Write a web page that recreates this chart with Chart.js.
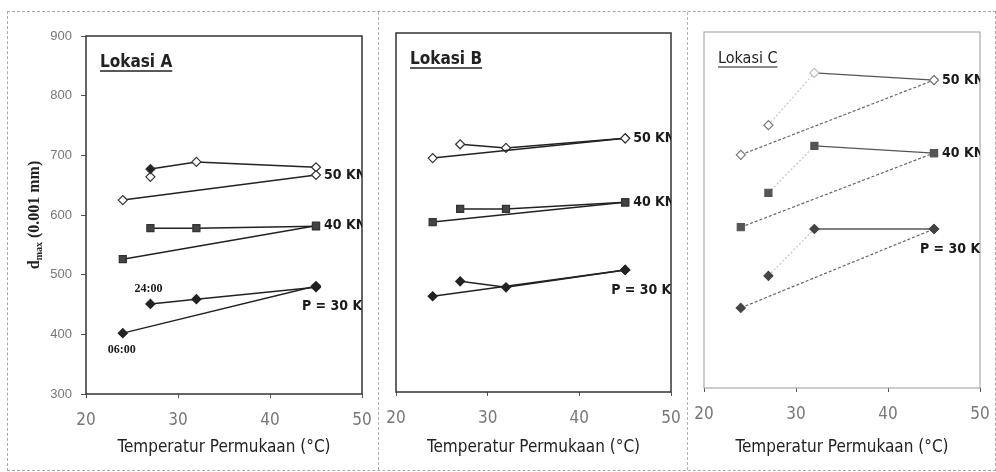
<!DOCTYPE html>
<html lang="en">
<head>
<meta charset="utf-8" />
<title>dmax vs Temperatur Permukaan</title>
<style>
  body { margin: 0; background: #fff; }
  #wrap { position: relative; width: 996px; height: 472px; overflow: hidden; }
  #wrap canvas { position: absolute; top: 12px; }
  .frame { position: absolute; border: 1px dashed #a8a8a8; }
  .divider { position: absolute; top: 12px; width: 0; height: 458px; border-left: 1px dashed #b0b0b0; }
</style>
</head>
<body>
<div id="wrap">
  <div class="frame" style="left:7px; top:11px; width:987px; height:458px;"></div>
  <div class="divider" style="left:378px;"></div>
  <div class="divider" style="left:687px;"></div>
  <canvas id="chartA" width="370" height="458" style="left:8px;"></canvas>
  <canvas id="chartB" width="309" height="458" style="left:378px;"></canvas>
  <canvas id="chartC" width="303" height="458" style="left:687px;"></canvas>
</div>
<script src="https://cdn.jsdelivr.net/npm/chart.js@4.4.1/dist/chart.umd.min.js"></script>
<script>
  // surface temperatures (deg C): morning line 06:00 -> noon, evening line -> 24:00
  var temp06 = [24, 45];
  var temp24 = [27, 32, 45];

  // Lokasi A, dmax (0.001 mm)
  var a30_06 = [402, 481];
  var a30_24 = [451, 459, 479];
  var a40_06 = [526, 582];
  var a40_24 = [578, 578, 581];
  var a50_06 = [625, 667];
  var a50_24 = [677, 689, 680];
  var a50_extraT = [27];
  var a50_extra = [664];

  // Lokasi B
  var b30_06 = [460, 504];
  var b30_24 = [485, 475, 504];
  var b40_06 = [584, 617];
  var b40_24 = [606, 606, 617];
  var b50_06 = [691, 724];
  var b50_24 = [714, 708, 724];

  // Lokasi C
  var c30_06 = [435, 568];
  var c30_24 = [489, 568, 568];
  var c40_06 = [571, 696];
  var c40_24 = [629, 708, 696];
  var c50_06 = [693, 819];
  var c50_24 = [743, 831, 819];

  var loadLabels = ["P = 30 KN", "40 KN", "50 KN"];
  var timeLabels = ["06:00", "24:00"];
  var yTicks = [300, 900, 100];
  var xTicks = [20, 50, 10];

  var NARROW = "'Liberation Sans Narrow', 'DejaVu Sans Condensed', 'Arial Narrow', 'Liberation Sans', sans-serif";
  var SERIF = "'Liberation Serif', 'Times New Roman', serif";

  function pts(t, v) {
    return t.map(function (x, i) { return { x: x, y: v[i] }; });
  }

  function series(t, v, opts) {
    var ds = {
      data: pts(t, v),
      showLine: true,
      borderColor: "#222",
      borderWidth: 1.5,
      pointStyle: "rectRot",
      pointRadius: 4.5,
      pointHoverRadius: 4.5,
      pointBorderWidth: 1.2,
      pointBackgroundColor: "#222",
      pointBorderColor: "#222"
    };
    for (var k in opts) ds[k] = opts[k];
    return ds;
  }

  var openDiamond = { pointBackgroundColor: "#fff", pointBorderColor: "#333" };
  var square = { pointStyle: "rect", pointRadius: 5, pointBackgroundColor: "#444", pointBorderColor: "#333" };

  function merge(a, b) {
    var o = {};
    for (var k in a) o[k] = a[k];
    for (var j in b) o[j] = b[j];
    return o;
  }

  // draws the plot frame, "Lokasi" title, load labels and (panel A) the y title
  function panelPlugin(cfg) {
    return {
      id: "panel",
      afterDraw: function (chart) {
        var ctx = chart.ctx;
        var ca = chart.chartArea;
        var xs = chart.scales.x, ys = chart.scales.y;
        ctx.save();
        ctx.strokeStyle = cfg.frame;
        ctx.lineWidth = cfg.frameWidth;
        ctx.strokeRect(ca.left, ca.top, ca.right - ca.left, ca.bottom - ca.top);

        ctx.fillStyle = "#222";
        ctx.font = cfg.titleFont;
        ctx.textAlign = "left";
        ctx.textBaseline = "alphabetic";
        var tx = ca.left + 14, ty = ca.top + 31;
        ctx.fillText(cfg.title, tx, ty);
        var w = ctx.measureText(cfg.title).width;
        ctx.strokeStyle = cfg.titleLine;
        ctx.lineWidth = 1.5;
        ctx.beginPath();
        ctx.moveTo(tx, ty + 4);
        ctx.lineTo(tx + w, ty + 4);
        ctx.stroke();

        // labels clipped to plot area, like the original
        ctx.beginPath();
        ctx.rect(ca.left, ca.top, ca.right - ca.left, ca.bottom - ca.top);
        ctx.clip();
        ctx.textBaseline = "middle";
        cfg.labels.forEach(function (l) {
          var p = chart.data.datasets[l.ds].data[l.pt];
          ctx.font = l.font;
          ctx.fillStyle = "#1a1a1a";
          ctx.textAlign = l.align || "left";
          ctx.fillText(l.text, xs.getPixelForValue(p.x) + l.dx, ys.getPixelForValue(p.y) + l.dy);
        });
        ctx.restore();

        if (cfg.yTitle) {
          ctx.save();
          ctx.translate(25, 203);
          ctx.rotate(-Math.PI / 2);
          ctx.fillStyle = "#222";
          ctx.textBaseline = "alphabetic";
          var f1 = "bold 16px " + SERIF, f2 = "bold 10px " + SERIF;
          var parts = [["d", f1, 0], ["max", f2, 3], [" (0.001 mm)", f1, 0]];
          var total = 0;
          parts.forEach(function (p) { ctx.font = p[1]; total += ctx.measureText(p[0]).width; });
          var x = -total / 2;
          parts.forEach(function (p) {
            ctx.font = p[1];
            ctx.fillText(p[0], x, 6 + p[2]);
            x += ctx.measureText(p[0]).width;
          });
          ctx.restore();
        }
      }
    };
  }

  function makeChart(id, datasets, cfg) {
    var ctx = document.getElementById(id).getContext("2d");
    return new Chart(ctx, {
      type: "scatter",
      data: { datasets: datasets },
      options: {
        responsive: false,
        animation: false,
        layout: { padding: { top: cfg.padTop, right: cfg.padRight, left: 0, bottom: 0 } },
        plugins: { legend: { display: false }, tooltip: { enabled: false } },
        scales: {
          x: {
            type: "linear",
            min: xTicks[0], max: xTicks[1],
            border: { display: false },
            grid: { drawOnChartArea: false, tickLength: 4, color: "#555" },
            ticks: { stepSize: xTicks[2], color: "#777", padding: 12, font: { family: NARROW, size: 17 } },
            title: {
              display: true,
              text: "Temperatur Permukaan (°C)",
              color: "#222",
              font: { family: NARROW, size: 17 },
              padding: { top: 0, bottom: 12 }
            },
            afterFit: function (s) {
              s.height = cfg.xHeight;
              s.paddingLeft = 0;
              s.paddingRight = 0;
            }
          },
          y: {
            min: yTicks[0], max: yTicks[1],
            border: { display: false },
            grid: { display: cfg.yTicks, drawOnChartArea: false, tickLength: 5, color: "#555" },
            ticks: { display: cfg.yTicks, stepSize: yTicks[2], color: "#777", padding: 9, font: { family: "'Liberation Sans', Arial, sans-serif", size: 13 } },
            afterFit: function (s) {
              s.width = cfg.yWidth;
              s.paddingTop = 0;
              s.paddingBottom = 0;
            }
          }
        }
      },
      plugins: [panelPlugin(cfg)]
    });
  }

  var labelBold = "bold 14px " + NARROW;
  var timeFont = "bold 12px " + SERIF;

  function loadLabelSet(i30, i40, i50) {
    return [
      { text: loadLabels[0], ds: i30, pt: 1, dx: -14, dy: 20, font: labelBold },
      { text: loadLabels[1], ds: i40, pt: 1, dx: 8, dy: 0, font: labelBold },
      { text: loadLabels[2], ds: i50, pt: 1, dx: 8, dy: 0, font: labelBold }
    ];
  }

  // Lokasi A
  var dsA = [
    series(temp06, a30_06, {}),
    series(temp24, a30_24, {}),
    series(temp06, a40_06, square),
    series(temp24, a40_24, square),
    series(temp06, a50_06, openDiamond),
    series(temp24, a50_24, merge(openDiamond, { pointBackgroundColor: ["#222", "#fff", "#fff"] })),
    series(a50_extraT, a50_extra, merge(openDiamond, { showLine: false }))
  ];
  var labA = loadLabelSet(0, 2, 4);
  labA.push({ text: timeLabels[0], ds: 0, pt: 0, dx: -1, dy: 17, font: timeFont, align: "center" });
  labA.push({ text: timeLabels[1], ds: 1, pt: 0, dx: -2, dy: -15, font: timeFont, align: "center" });
  makeChart("chartA", dsA, {
    title: "Lokasi A", titleFont: "bold 17px " + NARROW, titleLine: "#222",
    frame: "#333", frameWidth: 1.5, labels: labA, yTitle: true, yTicks: true,
    padTop: 24, padRight: 16, yWidth: 78, xHeight: 76
  });

  // Lokasi B
  var dsB = [
    series(temp06, b30_06, {}),
    series(temp24, b30_24, {}),
    series(temp06, b40_06, square),
    series(temp24, b40_24, square),
    series(temp06, b50_06, openDiamond),
    series(temp24, b50_24, openDiamond)
  ];
  makeChart("chartB", dsB, {
    title: "Lokasi B", titleFont: "bold 17px " + NARROW, titleLine: "#222",
    frame: "#333", frameWidth: 1.5, labels: loadLabelSet(0, 2, 4), yTitle: false, yTicks: false,
    padTop: 21, padRight: 16, yWidth: 18, xHeight: 78
  });

  // Lokasi C: faint scanned lines, dashed morning line
  function cSeries(t, v, marker, isMorning) {
    var o = merge(marker, {});
    if (isMorning) {
      o.borderColor = "#666";
      o.borderWidth = 1.2;
      o.borderDash = [3, 2];
    } else {
      o.borderColor = "#555";
      o.borderWidth = 1.3;
      o.segment = {
        borderColor: function (c) { return c.p0DataIndex === 0 ? "#c8c8c8" : undefined; },
        borderDash: function (c) { return c.p0DataIndex === 0 ? [2, 2] : undefined; }
      };
    }
    return series(t, v, o);
  }
  var cDiamond = { pointBackgroundColor: "#444", pointBorderColor: "#444" };
  var cSquare = merge(square, { pointBackgroundColor: "#555", pointBorderColor: "#555" });
  var cOpen = { pointBackgroundColor: "#fff", pointBorderColor: ["#777", "#bbb", "#888"] };
  var dsC = [
    cSeries(temp06, c30_06, cDiamond, true),
    cSeries(temp24, c30_24, cDiamond, false),
    cSeries(temp06, c40_06, cSquare, true),
    cSeries(temp24, c40_24, cSquare, false),
    cSeries(temp06, c50_06, merge(cOpen, { pointBorderColor: "#777" }), true),
    cSeries(temp24, c50_24, cOpen, false)
  ];
  makeChart("chartC", dsC, {
    title: "Lokasi C", titleFont: "16px " + NARROW, titleLine: "#666",
    frame: "#999", frameWidth: 1, labels: loadLabelSet(0, 2, 4), yTitle: false, yTicks: false,
    padTop: 20, padRight: 10, yWidth: 17, xHeight: 82
  });
</script>
</body>
</html>
